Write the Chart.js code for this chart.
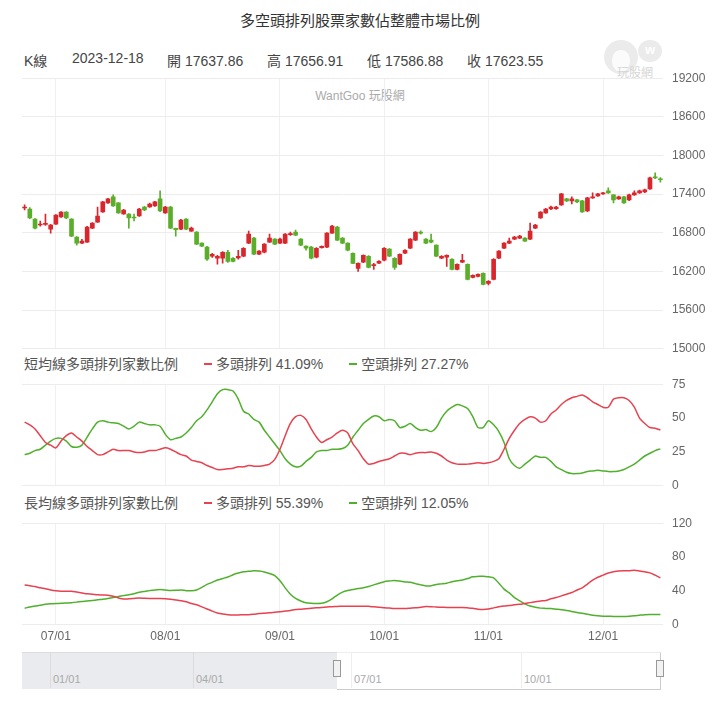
<!DOCTYPE html>
<html>
<head>
<meta charset="utf-8">
<script src="https://cdn.jsdelivr.net/npm/chart.js@4/dist/chart.umd.min.js"></script>
<style>
  body { margin: 0; background: #fff; font-family: "Liberation Sans", "Noto Sans CJK TC", sans-serif; }
  #wrap { position: relative; width: 720px; height: 701px; overflow: hidden; }
  canvas { position: absolute; left: 0; }
  .title { position: absolute; top: 9px; width: 720px; text-align: center; font-size: 15px; color: #333; }
  .info { position: absolute; top: 50px; font-size: 14px; color: #444; white-space: nowrap; }
  .wm { position: absolute; top: 86px; width: 720px; text-align: center; font-size: 12px; color: #aaa; }
  .logo { position: absolute; }
  .legend { position: absolute; left: 24px; font-size: 14px; color: #555; white-space: nowrap; }
  .legend span.dash { display: inline-block; width: 8px; height: 2px; vertical-align: middle; margin: 0 4px 2px 0; }
  .nav { position: absolute; }
  .navlab { position: absolute; top: 673px; font-size: 11px; color: #aaa; }
</style>
</head>
<body>
<div id="wrap">
  <div class="title">多空頭排列股票家數佔整體市場比例</div>
  <div class="info" style="left:24px">K線</div>
  <div class="info" style="left:72px">2023-12-18</div>
  <div class="info" style="left:167px">開 17637.86</div>
  <div class="info" style="left:267px">高 17656.91</div>
  <div class="info" style="left:367px">低 17586.88</div>
  <div class="info" style="left:467px">收 17623.55</div>

  <!-- faded logo -->
  <div class="logo" style="left:604px;top:40px;width:34px;height:34px;border-radius:50%;background:#ebebeb"></div>
  <div class="logo" style="left:612px;top:50px;width:18px;height:22px;border-radius:45% 45% 50% 50%;background:#fbfbfb"></div>
  <div class="logo" style="left:638px;top:40px;width:24px;height:22px;border-radius:50%;background:#ebebeb;color:#fff;font-size:13px;font-weight:bold;text-align:center;line-height:20px">w</div>
  <div class="logo" style="left:617px;top:63px;font-size:12px;color:#d6d6d6">玩股網</div>
  <div class="wm">WantGoo 玩股網</div>

  <div class="legend" style="top:353px">短均線多頭排列家數比例
    <span style="margin-left:22px"><span class="dash" style="background:#e8414f"></span>多頭排列 41.09%</span>
    <span style="margin-left:22px"><span class="dash" style="background:#4fb02c"></span>空頭排列 27.27%</span>
  </div>
  <div class="legend" style="top:492px">長均線多頭排列家數比例
    <span style="margin-left:22px"><span class="dash" style="background:#e8414f"></span>多頭排列 55.39%</span>
    <span style="margin-left:22px"><span class="dash" style="background:#4fb02c"></span>空頭排列 12.05%</span>
  </div>

  <canvas id="kline" width="720" height="303" style="top:62px"></canvas>
  <canvas id="short" width="720" height="134" style="top:368px"></canvas>
  <canvas id="long" width="720" height="142" style="top:507px"></canvas>

  <!-- navigator -->
  <div class="nav" style="left:22px;top:652px;width:315px;height:36px;background:#e9ebee;border-top:1px solid #ddd"></div>
  <div class="nav" style="left:337px;top:652px;width:323px;height:36px;border-bottom:1px solid #ccc;border-right:1px solid #ccc;border-top:1px solid #eee"></div>
  <div class="nav" style="left:50px;top:652px;width:1px;height:36px;background:#dcdcdc"></div>
  <div class="nav" style="left:193px;top:652px;width:1px;height:36px;background:#dcdcdc"></div>
  <div class="nav" style="left:351px;top:652px;width:1px;height:36px;background:#eee"></div>
  <div class="nav" style="left:521px;top:652px;width:1px;height:36px;background:#eee"></div>
  <div class="navlab" style="left:53px">01/01</div>
  <div class="navlab" style="left:196px">04/01</div>
  <div class="navlab" style="left:354px">07/01</div>
  <div class="navlab" style="left:524px">10/01</div>
  <div class="nav" style="left:333px;top:660px;width:6px;height:15px;background:#f2f2f2;border:1px solid #999"></div>
  <div class="nav" style="left:656px;top:660px;width:6px;height:15px;background:#f2f2f2;border:1px solid #999"></div>
</div>

<script>
// trading days 2023-06-21 .. 2023-12-18 (weekdays minus TWSE closures)
const holidays = ["2023-06-22", "2023-06-23", "2023-08-03", "2023-09-29", "2023-10-09", "2023-10-10"];

function tradingDays(from, to) {
  const out = [];
  const d = new Date(from + "T00:00:00Z");
  const end = new Date(to + "T00:00:00Z");
  while (d <= end) {
    const s = d.toISOString().slice(0, 10);
    const wd = d.getUTCDay();
    if (wd !== 0 && wd !== 6 && !holidays.includes(s)) out.push(s);
    d.setUTCDate(d.getUTCDate() + 1);
  }
  return out;
}
const dates = tradingDays("2023-06-21", "2023-12-18");

// K-line (TAIEX)
const open = [
  17186,17170,17014,16921,16930,16858,16936,17045,17123,17014,
  16733,16639,16655,16874,16967,17123,17264,17358,17264,17092,
  17092,17040,17061,17201,17201,17217,17326,17108,17201,16870,
  16858,17014,16827,16811,16639,16577,16436,16405,16405,16499,
  16405,16410,16436,16639,16718,16468,16499,16655,16702,16639,
  16639,16770,16811,16702,16593,16577,16421,16570,16577,16796,
  16889,16718,16639,16483,16249,16343,16436,16290,16330,16374,
  16546,16405,16312,16483,16561,16686,16811,16702,16686,16608,
  16405,16421,16390,16234,16343,16312,16109,16124,16171,16015,
  16077,16405,16561,16639,16702,16718,16718,16702,16874,17030,
  17108,17170,17175,17233,17326,17295,17311,17295,17139,17342,
  17373,17404,17451,17389,17326,17358,17311,17389,17420,17435,
  17483,17670,17637.86
];
const high = [
  17233,17190,17020,16983,17092,16930,17085,17130,17130,17020,
  16740,16700,16900,16960,17201,17290,17335,17389,17270,17165,
  17100,17092,17180,17210,17260,17290,17451,17210,17210,16874,
  17010,17020,16890,16820,16645,16590,16480,16450,16510,16530,
  16415,16530,16570,16827,16730,16525,16635,16780,16710,16720,
  16790,16810,16842,16710,16600,16590,16570,16600,16805,16915,
  16900,16725,16645,16490,16335,16460,16445,16327,16370,16570,
  16555,16415,16475,16540,16710,16820,16830,16710,16780,16615,
  16445,16460,16400,16320,16468,16320,16150,16165,16180,16060,
  16400,16525,16650,16718,16745,16760,16725,16952,16930,17130,
  17180,17215,17210,17415,17335,17358,17320,17305,17350,17420,
  17415,17430,17497,17395,17370,17365,17400,17451,17465,17480,
  17665,17730,17656.91
];
const low = [
  17155,17020,16860,16905,16915,16796,16930,17040,17020,16740,
  16608,16630,16650,16865,16960,17115,17255,17210,17100,17085,
  16874,16983,17055,17145,17195,17210,17130,17100,16865,16749,
  16850,16850,16820,16615,16585,16370,16420,16312,16330,16340,
  16350,16390,16430,16630,16460,16460,16490,16650,16615,16630,
  16630,16760,16755,16600,16530,16395,16410,16560,16570,16790,
  16680,16630,16520,16320,16202,16335,16255,16234,16320,16365,
  16430,16234,16305,16475,16555,16680,16780,16630,16645,16430,
  16400,16280,16225,16225,16335,16070,16100,16115,15990,15990,
  16070,16400,16555,16630,16695,16710,16665,16695,16865,17025,
  17100,17160,17165,17225,17285,17248,17270,17115,17130,17335,
  17365,17395,17410,17264,17320,17255,17300,17380,17410,17425,
  17475,17640,17586.88
];
const close = [
  17201,17030,16874,16936,16940,16921,17077,17123,17030,16749,
  16639,16671,16889,16952,17061,17280,17326,17217,17108,17155,
  17030,17030,17170,17155,17248,17280,17139,17201,16874,16850,
  16999,16858,16874,16624,16593,16390,16468,16436,16499,16358,
  16358,16436,16561,16780,16468,16515,16624,16718,16624,16702,
  16780,16790,16764,16608,16561,16405,16561,16590,16796,16905,
  16686,16639,16530,16327,16327,16452,16265,16305,16358,16561,
  16436,16265,16468,16530,16702,16811,16796,16639,16655,16436,
  16436,16452,16234,16312,16374,16077,16140,16155,15999,16046,
  16390,16515,16639,16671,16733,16749,16671,16827,16921,17123,
  17170,17201,17201,17404,17295,17326,17280,17123,17342,17358,
  17404,17420,17420,17311,17358,17264,17389,17420,17451,17467,
  17654,17654,17623.55
];

// short MA alignment ratio (%)
const shortBull = [
  47,45,42,37,32,30,28,33,37,39,
  36,33,29,26,23,23,25,27,26,26,
  26,25,24.5,25,26,26,27,28,27,25,
  23,22,19,18,17,15,13.5,12,12,12.5,
  13,14,14,15,14.5,14.5,15,16,19.5,27,
  37,46,51,52,49,42,36,32,34,36,
  39,41,39,31,26,20,16,16.5,18,19,
  20,22,24,24,23,24,24.5,24.5,25,24,
  22,19,17,16,16,16,16.5,17,16.5,17,
  18,20,27,35,41,46,49,51,50,47,
  48,53,56,60,63,65,66,67,65,62,
  60,58,58,64,65,65,63,58,50,46,
  43,42.5,41.09
];
const shortBear = [
  23,24,26,27,30,33,35,35,33,29,
  28.5,30,36,42,47,48,47,46.5,46,44,
  42,44,47,46,45,45,44,38,34,35,
  36,39,43,48,51,56,62,68,71,71,
  70,64,55,53,49,47,41,36,31,26,
  20,16,14,14.5,18,21,25,26,26,27,
  27,27.5,30,36,41,46,49,51.5,51,48,
  49,48,43,44,46,43,41,41.5,40,43,
  50,55,58,60,59,57,51,43,43,48,
  45,40,32,20,15,13,16,19,22,21,
  21,18,14,12,10,9,9,9.5,10.5,11,
  11.5,11,10.5,10.5,11,12,14,16,19,22,
  24,26,27.27
];

// long MA alignment ratio (%)
const longBull = [
  47,46,45,43.5,42.5,41,40,39.5,39.5,39.5,
  38.5,37.5,36.5,36,35.3,35,34.7,33.5,31.5,30.2,
  30.5,31,31.5,31.2,31,31,31,30.6,30,29.2,
  28.3,27,25,23.4,21,18.5,16,13.8,12.5,11.8,
  11.4,11.4,11.6,11.7,12.3,13,13.5,14,14.5,15.2,
  16,16.8,17.8,18.3,18.9,19.3,19.8,20.3,20.8,21.2,
  21.5,21.7,21.8,21.8,21.8,21.8,21.6,21,20.6,20,
  19.5,19,19,19,19.4,19.8,20.6,21.4,21.2,20.8,
  20.5,20.3,20.2,20.2,20.2,19.8,19.3,18.3,18,18.5,
  19.8,21,22,22.6,23.4,24,25,26,27,28,
  28.6,30.5,32,34,36,38,41,43.5,48,52.5,
  56,58.5,61,62.5,63.5,63.7,63.7,64.3,63.5,62.5,
  61.2,58.5,55.39
];
const longBear = [
  19.4,20.8,22,23,24,24.6,25,25.2,25.6,26,
  26.6,27.3,27.8,28.5,29.3,30,31,32.2,33.2,34.3,
  35.3,36.6,38.3,39.3,40.2,41,41.4,41,40.4,40.6,
  41,40.2,40,41,44,47.6,50,52.7,54.5,56.3,
  59,61,62.5,63,63.7,63.3,62.3,60.5,58,52,
  43.5,36,31,28,25.8,25.2,25,25.2,27,30.5,
  35,38.4,40.4,41.6,42.8,43.5,45,47,49,50.8,
  51.6,52.2,51.5,50.5,50,48.5,47,45.8,46,47.5,
  48.2,49,50.8,52,52.8,54.5,56.5,57,57.3,56.5,
  55.4,49,42,37.5,32,28,24.5,22,20.5,19.5,
  19.2,19,18.3,17.6,16.7,15.6,14.4,13.3,12.2,11.1,
  10.4,10,9.8,9.7,9.7,9.7,10,10.5,11.2,11.8,
  12,12,12.05
];

const priceTicks = [15000, 15600, 16200, 16800, 17400, 18000, 18600, 19200];

const RED = "#d9272e";
const GREEN = "#5aae2b";
const LINE_RED = "#e8414f";
const LINE_GREEN = "#4fb02c";
const GRID = "#ececec";
const FONT = { family: '"Liberation Sans", "Noto Sans CJK TC", sans-serif', size: 12 };

Chart.defaults.animation = false;
Chart.defaults.font = FONT;
Chart.defaults.color = "#666";

function isMonthStart(i) {
  return i > 0 && dates[i].slice(5, 7) !== dates[i - 1].slice(5, 7);
}

function xAxis(showLabels) {
  return {
    type: "category",
    offset: true,
    afterBuildTicks: (axis) => {
      axis.ticks = axis.ticks.filter((t) => isMonthStart(t.value));
    },
    grid: { color: "#f0f0f0", offset: false, drawTicks: false },
    border: { display: false },
    ticks: {
      display: showLabels,
      autoSkip: false,
      maxRotation: 0,
      padding: 5,
      callback: (v) => dates[v].slice(5, 7) + "/01",
    },
  };
}

function yAxis(min, max, step, allGrid) {
  return {
    position: "right",
    min: min,
    max: max,
    afterFit: (s) => { s.width = 57; },
    border: { display: false },
    grid: {
      drawTicks: false,
      color: (c) => (allGrid || c.tick.value === min || c.tick.value === max ? GRID : "rgba(0,0,0,0)"),
    },
    ticks: { stepSize: step, padding: 9, color: "#666", callback: (v) => String(v) },
  };
}

const upColor = (c) => (close[c.dataIndex] >= open[c.dataIndex] ? RED : GREEN);

new Chart(document.getElementById("kline"), {
  type: "bar",
  data: {
    labels: dates,
    datasets: [
      {
        data: dates.map((d, i) => [low[i], high[i]]),
        backgroundColor: upColor,
        barThickness: 1,
        grouped: false,
      },
      {
        data: dates.map((d, i) => [open[i], close[i]]),
        backgroundColor: upColor,
        barThickness: 4,
        minBarLength: 1,
        grouped: false,
      },
    ],
  },
  options: {
    responsive: false,
    layout: { padding: { left: 22, right: 0, top: 0, bottom: 0 } },
    plugins: { legend: { display: false }, tooltip: { enabled: false } },
    scales: {
      x: xAxis(false),
      y: Object.assign(yAxis(priceTicks[0], priceTicks[priceTicks.length - 1], 600, true), {
        afterBuildTicks: (axis) => { axis.ticks = priceTicks.map((v) => ({ value: v })); },
      }),
    },
  },
});

function lineChart(id, bull, bear, max, step, showLabels) {
  new Chart(document.getElementById(id), {
    type: "line",
    data: {
      labels: dates,
      datasets: [
        { data: bull, borderColor: LINE_RED, borderWidth: 1.5, pointRadius: 0, tension: 0.25, fill: false },
        { data: bear, borderColor: LINE_GREEN, borderWidth: 1.5, pointRadius: 0, tension: 0.25, fill: false },
      ],
    },
    options: {
      responsive: false,
      layout: { padding: { left: 22, right: 0, top: 0, bottom: 0 } },
      plugins: { legend: { display: false }, tooltip: { enabled: false } },
      scales: { x: xAxis(showLabels), y: yAxis(0, max, step, false) },
    },
  });
}

lineChart("short", shortBull, shortBear, 75, 25, false);
lineChart("long", longBull, longBear, 120, 40, true);
</script>
</body>
</html>
